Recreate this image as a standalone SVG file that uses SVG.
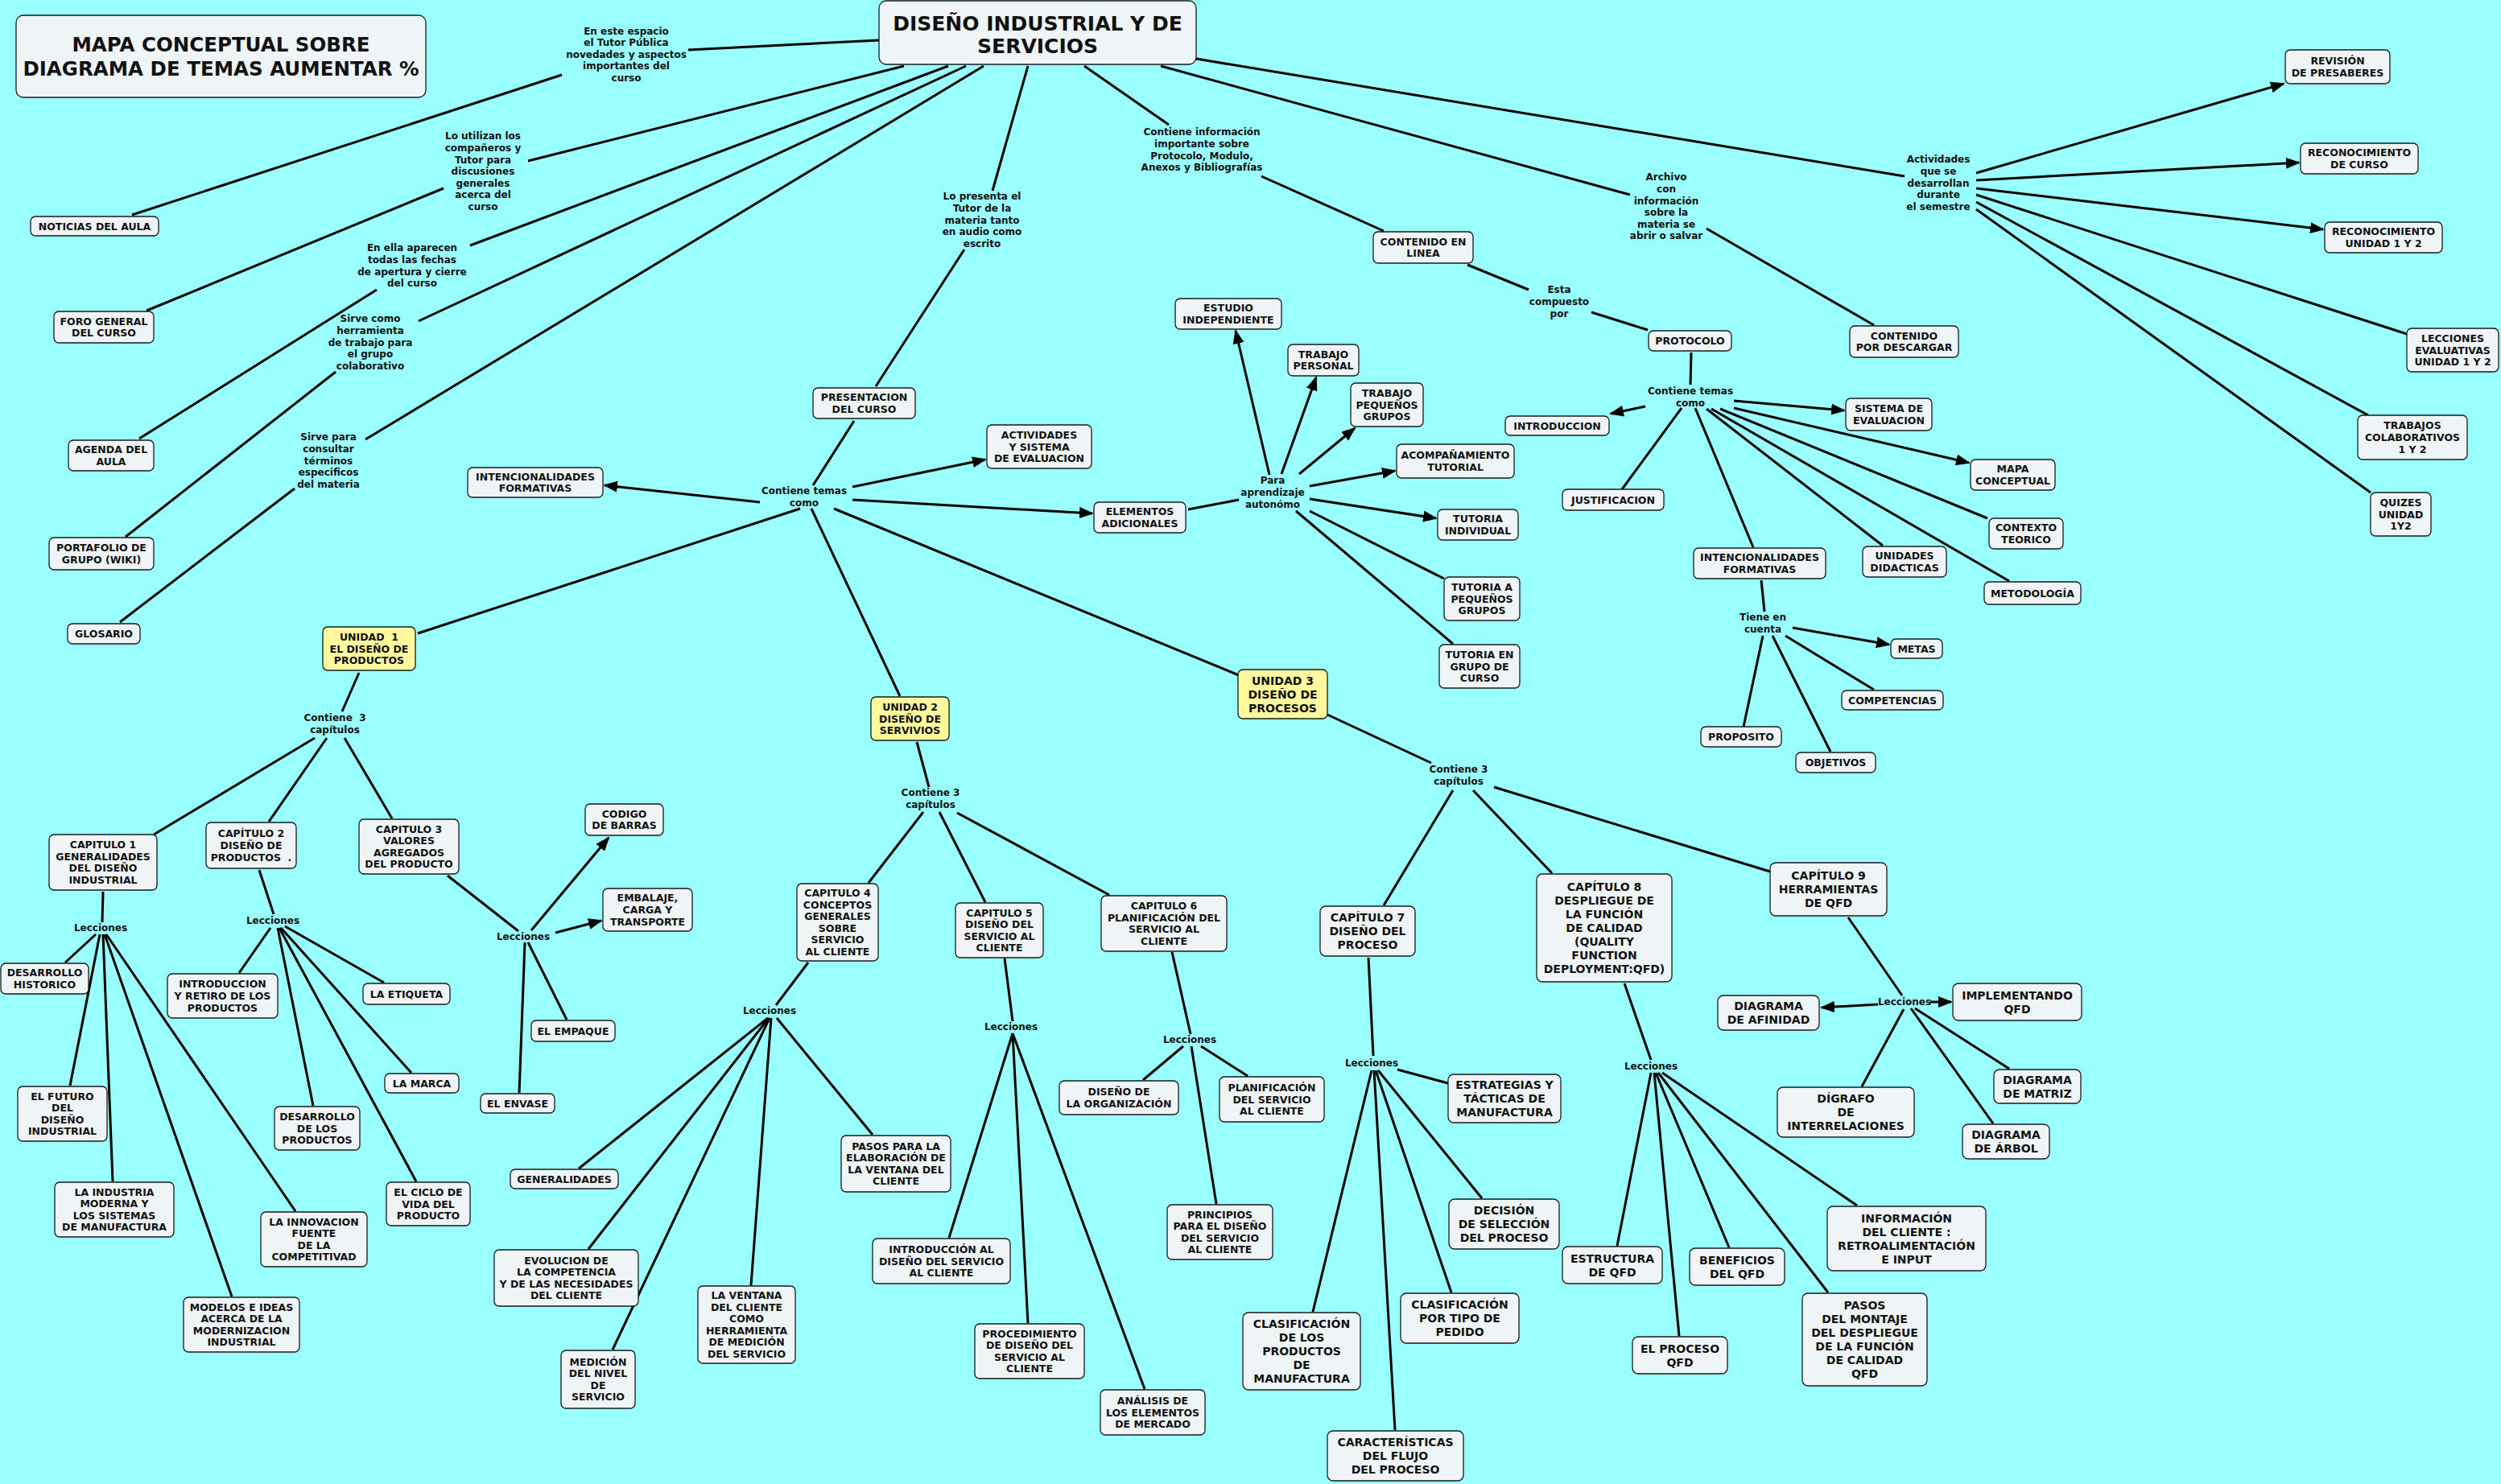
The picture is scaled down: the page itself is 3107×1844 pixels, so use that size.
<svg xmlns="http://www.w3.org/2000/svg" width="3107" height="1844" viewBox="0 0 3107 1844">
<style>
.box{fill:#EFF5F7;stroke:#1a1a1a;stroke-width:1.3}
.yel{fill:#FFF99D}
.t{font-family:"DejaVu Sans",Verdana,sans-serif;font-weight:bold;font-size:12.5px;text-anchor:middle;fill:#111}
.t14{font-size:14px}
.lk{font-family:"DejaVu Sans",Verdana,sans-serif;font-weight:bold;font-size:12px;text-anchor:middle;fill:#111}
.pre{white-space:pre}
#connectors line{stroke:#000;stroke-width:3;fill:none}
#connectors line.a{marker-end:url(#arr)}
</style>
<defs>
<marker id="arr" markerUnits="userSpaceOnUse" markerWidth="20" markerHeight="16" refX="16" refY="7" orient="auto">
<path d="M0,0 L18,7 L0,14 z" fill="#000"/>
</marker>
</defs>
<rect x="0" y="0" width="3107" height="1844" fill="#99FFFF"/>

<g id="connectors">
<line x1="1092" y1="50" x2="855" y2="62"/>
<line x1="698" y1="93" x2="164" y2="267"/>
<line x1="1123" y1="82" x2="656" y2="200"/>
<line x1="551" y1="234" x2="182" y2="386"/>
<line x1="1178" y1="82" x2="584" y2="305"/>
<line x1="468" y1="360" x2="173" y2="545"/>
<line x1="1200" y1="82" x2="520" y2="399"/>
<line x1="417" y1="462" x2="156" y2="667"/>
<line x1="1222" y1="82" x2="454" y2="546"/>
<line x1="366" y1="607" x2="149" y2="773"/>
<line x1="1277" y1="82" x2="1233" y2="237"/>
<line x1="1198" y1="310" x2="1088" y2="480"/>
<line x1="1061" y1="523" x2="1010" y2="603"/>
<line class="a" x1="944" y1="624" x2="751" y2="603"/>
<line class="a" x1="1059" y1="605" x2="1224" y2="571"/>
<line class="a" x1="1059" y1="621" x2="1357" y2="638"/>
<line x1="994" y1="632" x2="519" y2="787"/>
<line x1="1008" y1="632" x2="1118" y2="865"/>
<line x1="1036" y1="632" x2="1539" y2="839"/>
<line x1="1476" y1="633" x2="1539" y2="621"/>
<line class="a" x1="1577" y1="590" x2="1535" y2="411"/>
<line class="a" x1="1592" y1="589" x2="1635" y2="469"/>
<line class="a" x1="1614" y1="589" x2="1683" y2="532"/>
<line class="a" x1="1627" y1="604" x2="1733" y2="585"/>
<line class="a" x1="1627" y1="620" x2="1784" y2="644"/>
<line x1="1627" y1="635" x2="1794" y2="719"/>
<line x1="1610" y1="635" x2="1805" y2="800"/>
<line x1="1347" y1="82" x2="1452" y2="155"/>
<line x1="1567" y1="219" x2="1719" y2="287"/>
<line x1="1823" y1="329" x2="1899" y2="360"/>
<line x1="1977" y1="388" x2="2047" y2="410"/>
<line x1="2101" y1="438" x2="2100" y2="478"/>
<line class="a" x1="2044" y1="505" x2="2001" y2="514"/>
<line class="a" x1="2154" y1="498" x2="2291" y2="510"/>
<line x1="2089" y1="507" x2="2015" y2="608"/>
<line x1="2106" y1="507" x2="2178" y2="680"/>
<line x1="2120" y1="508" x2="2339" y2="678"/>
<line x1="2126" y1="508" x2="2496" y2="722"/>
<line x1="2137" y1="508" x2="2469" y2="644"/>
<line class="a" x1="2154" y1="507" x2="2446" y2="575"/>
<line x1="1442" y1="82" x2="2025" y2="242"/>
<line x1="2120" y1="284" x2="2328" y2="404"/>
<line x1="1486" y1="73" x2="2366" y2="219"/>
<line class="a" x1="2455" y1="215" x2="2837" y2="104"/>
<line class="a" x1="2455" y1="224" x2="2856" y2="202"/>
<line class="a" x1="2455" y1="234" x2="2886" y2="285"/>
<line x1="2455" y1="242" x2="2990" y2="415"/>
<line x1="2455" y1="251" x2="2942" y2="516"/>
<line x1="2455" y1="260" x2="2945" y2="612"/>
<line x1="2188" y1="721" x2="2192" y2="760"/>
<line x1="2190" y1="790" x2="2166" y2="903"/>
<line x1="2202" y1="790" x2="2274" y2="934"/>
<line x1="2218" y1="790" x2="2328" y2="857"/>
<line class="a" x1="2227" y1="780" x2="2347" y2="801"/>
<line x1="446" y1="836" x2="425" y2="884"/>
<line x1="391" y1="917" x2="191" y2="1037"/>
<line x1="406" y1="917" x2="334" y2="1021"/>
<line x1="428" y1="917" x2="487" y2="1017"/>
<line x1="128" y1="1108" x2="127" y2="1146"/>
<line x1="119" y1="1161" x2="81" y2="1196"/>
<line x1="124" y1="1161" x2="87" y2="1349"/>
<line x1="128" y1="1161" x2="140" y2="1468"/>
<line x1="130" y1="1161" x2="288" y2="1611"/>
<line x1="132" y1="1161" x2="367" y2="1505"/>
<line x1="322" y1="1081" x2="340" y2="1136"/>
<line x1="336" y1="1153" x2="297" y2="1209"/>
<line x1="345" y1="1153" x2="389" y2="1374"/>
<line x1="347" y1="1153" x2="517" y2="1468"/>
<line x1="349" y1="1153" x2="511" y2="1333"/>
<line x1="354" y1="1151" x2="477" y2="1221"/>
<line x1="556" y1="1088" x2="644" y2="1157"/>
<line class="a" x1="660" y1="1156" x2="756" y2="1041"/>
<line class="a" x1="690" y1="1159" x2="747" y2="1144"/>
<line x1="652" y1="1171" x2="645" y2="1358"/>
<line x1="656" y1="1171" x2="704" y2="1267"/>
<line x1="1139" y1="922" x2="1154" y2="978"/>
<line x1="1147" y1="1009" x2="1079" y2="1097"/>
<line x1="1167" y1="1009" x2="1224" y2="1121"/>
<line x1="1189" y1="1010" x2="1378" y2="1112"/>
<line x1="1004" y1="1196" x2="964" y2="1249"/>
<line x1="954" y1="1265" x2="719" y2="1452"/>
<line x1="955" y1="1265" x2="731" y2="1552"/>
<line x1="956" y1="1265" x2="761" y2="1677"/>
<line x1="958" y1="1265" x2="933" y2="1597"/>
<line x1="965" y1="1265" x2="1084" y2="1410"/>
<line x1="1248" y1="1191" x2="1258" y2="1269"/>
<line x1="1258" y1="1284" x2="1179" y2="1538"/>
<line x1="1258" y1="1284" x2="1277" y2="1644"/>
<line x1="1258" y1="1284" x2="1422" y2="1726"/>
<line x1="1456" y1="1183" x2="1479" y2="1285"/>
<line x1="1470" y1="1300" x2="1420" y2="1342"/>
<line x1="1480" y1="1300" x2="1511" y2="1496"/>
<line x1="1492" y1="1300" x2="1550" y2="1337"/>
<line x1="1649" y1="888" x2="1778" y2="948"/>
<line x1="1805" y1="982" x2="1719" y2="1125"/>
<line x1="1830" y1="982" x2="1928" y2="1085"/>
<line x1="1856" y1="978" x2="2199" y2="1083"/>
<line x1="1700" y1="1190" x2="1706" y2="1312"/>
<line x1="1736" y1="1329" x2="1799" y2="1346"/>
<line x1="1712" y1="1330" x2="1841" y2="1489"/>
<line x1="1709" y1="1330" x2="1803" y2="1606"/>
<line x1="1704" y1="1330" x2="1631" y2="1630"/>
<line x1="1707" y1="1330" x2="1733" y2="1777"/>
<line x1="2018" y1="1222" x2="2051" y2="1317"/>
<line x1="2051" y1="1333" x2="2009" y2="1548"/>
<line x1="2055" y1="1333" x2="2086" y2="1660"/>
<line x1="2057" y1="1333" x2="2148" y2="1550"/>
<line x1="2060" y1="1333" x2="2271" y2="1606"/>
<line x1="2065" y1="1333" x2="2307" y2="1498"/>
<line x1="2296" y1="1140" x2="2363" y2="1237"/>
<line class="a" x1="2333" y1="1248" x2="2263" y2="1252"/>
<line class="a" x1="2398" y1="1245" x2="2424" y2="1245"/>
<line x1="2365" y1="1254" x2="2313" y2="1350"/>
<line x1="2379" y1="1253" x2="2496" y2="1328"/>
<line x1="2374" y1="1253" x2="2476" y2="1396"/>
</g>

<g id="linking-phrases">
<text class="lk" x="778" y="42.5">En este espacio<tspan x="778" dy="14.6">el Tutor Pública</tspan><tspan x="778" dy="14.6">novedades y aspectos</tspan><tspan x="778" dy="14.6">importantes del</tspan><tspan x="778" dy="14.6">curso</tspan></text>
<text class="lk" x="600" y="173.3">Lo utilizan los<tspan x="600" dy="14.6">compañeros y</tspan><tspan x="600" dy="14.6">Tutor para</tspan><tspan x="600" dy="14.6">discusiones</tspan><tspan x="600" dy="14.6">generales</tspan><tspan x="600" dy="14.6">acerca del</tspan><tspan x="600" dy="14.6">curso</tspan></text>
<text class="lk" x="512" y="312.3">En ella aparecen<tspan x="512" dy="14.6">todas las fechas</tspan><tspan x="512" dy="14.6">de apertura y cierre</tspan><tspan x="512" dy="14.6">del curso</tspan></text>
<text class="lk" x="460" y="400.3">Sirve como<tspan x="460" dy="14.6">herramienta</tspan><tspan x="460" dy="14.6">de trabajo para</tspan><tspan x="460" dy="14.6">el grupo</tspan><tspan x="460" dy="14.6">colaborativo</tspan></text>
<text class="lk" x="408" y="547.3">Sirve para<tspan x="408" dy="14.6">consultar</tspan><tspan x="408" dy="14.6">términos</tspan><tspan x="408" dy="14.6">especificos</tspan><tspan x="408" dy="14.6">del materia</tspan></text>
<text class="lk" x="1220" y="248.3">Lo presenta el<tspan x="1220" dy="14.6">Tutor de la</tspan><tspan x="1220" dy="14.6">materia tanto</tspan><tspan x="1220" dy="14.6">en audio como</tspan><tspan x="1220" dy="14.6">escrito</tspan></text>
<text class="lk" x="1493" y="168.3">Contiene información<tspan x="1493" dy="14.6">importante sobre</tspan><tspan x="1493" dy="14.6">Protocolo, Modulo,</tspan><tspan x="1493" dy="14.6">Anexos y Bibliografías</tspan></text>
<text class="lk" x="2070" y="224.3">Archivo<tspan x="2070" dy="14.6">con</tspan><tspan x="2070" dy="14.6">información</tspan><tspan x="2070" dy="14.6">sobre la</tspan><tspan x="2070" dy="14.6">materia se</tspan><tspan x="2070" dy="14.6">abrir o salvar</tspan></text>
<text class="lk" x="2408" y="202.3">Actividades<tspan x="2408" dy="14.6">que se</tspan><tspan x="2408" dy="14.6">desarrollan</tspan><tspan x="2408" dy="14.6">durante</tspan><tspan x="2408" dy="14.6">el semestre</tspan></text>
<text class="lk" x="1937" y="364.3">Esta<tspan x="1937" dy="14.6">compuesto</tspan><tspan x="1937" dy="14.6">por</tspan></text>
<text class="lk" x="2100" y="490.3">Contiene temas<tspan x="2100" dy="14.6">como</tspan></text>
<text class="lk" x="999" y="614.3">Contiene temas<tspan x="999" dy="14.6">como</tspan></text>
<text class="lk" x="1581" y="601.3">Para<tspan x="1581" dy="14.6">aprendizaje</tspan><tspan x="1581" dy="14.6">autonómo</tspan></text>
<text class="lk" x="2190" y="771.3">Tiene en<tspan x="2190" dy="14.6">cuenta</tspan></text>
<text class="lk pre" x="416" y="896.3">Contiene  3<tspan x="416" dy="14.6">capítulos</tspan></text>
<text class="lk" x="1156" y="989.3">Contiene 3<tspan x="1156" dy="14.6">capítulos</tspan></text>
<text class="lk" x="1812" y="960.3">Contiene 3<tspan x="1812" dy="14.6">capítulos</tspan></text>
<text class="lk" x="125" y="1157.3">Lecciones</text>
<text class="lk" x="339" y="1148.3">Lecciones</text>
<text class="lk" x="650" y="1168.3">Lecciones</text>
<text class="lk" x="956" y="1260.3">Lecciones</text>
<text class="lk" x="1256" y="1280.3">Lecciones</text>
<text class="lk" x="1478" y="1296.3">Lecciones</text>
<text class="lk" x="1704" y="1325.3">Lecciones</text>
<text class="lk" x="2051" y="1329.3">Lecciones</text>
<text class="lk" x="2366" y="1249.3">Lecciones</text>
</g>

<g id="n-titulo-mapa"><rect class="box" x="20" y="19" width="509" height="102" rx="9"/><text class="t" style="font-size:24.5px" x="274.5" y="64">MAPA CONCEPTUAL SOBRE<tspan x="274.5" dy="30">DIAGRAMA DE TEMAS AUMENTAR %</tspan></text></g>
<g id="n-principal"><rect class="box" x="1092" y="1" width="394" height="79" rx="9"/><text class="t" style="font-size:25px" x="1289" y="38">DISEÑO INDUSTRIAL Y DE<tspan x="1289" dy="28">SERVICIOS</tspan></text></g>
<g id="n-noticias"><rect class="box" x="38" y="269" width="159" height="24" rx="6"/><text class="t" x="117.5" y="285.5">NOTICIAS DEL AULA</text></g>
<g id="n-foro"><rect class="box" x="67" y="387" width="124" height="39" rx="6"/><text class="t" x="129" y="403.7">FORO GENERAL<tspan x="129" dy="14.6">DEL CURSO</tspan></text></g>
<g id="n-agenda"><rect class="box" x="85" y="547" width="106" height="38" rx="6"/><text class="t" x="138" y="563.2">AGENDA DEL<tspan x="138" dy="14.6">AULA</tspan></text></g>
<g id="n-portafolio"><rect class="box" x="61" y="668" width="130" height="40" rx="6"/><text class="t" x="126" y="685.2">PORTAFOLIO DE<tspan x="126" dy="14.6">GRUPO (WIKI)</tspan></text></g>
<g id="n-glosario"><rect class="box" x="84" y="775" width="90" height="25" rx="6"/><text class="t" x="129" y="792">GLOSARIO</text></g>
<g id="n-intenc-izq"><rect class="box" x="581" y="581" width="168" height="37" rx="6"/><text class="t" x="665" y="596.7">INTENCIONALIDADES<tspan x="665" dy="14.6">FORMATIVAS</tspan></text></g>
<g id="n-presentacion"><rect class="box" x="1010" y="482" width="127" height="38" rx="6"/><text class="t" x="1073.5" y="498.2">PRESENTACION<tspan x="1073.5" dy="14.6">DEL CURSO</tspan></text></g>
<g id="n-actividades"><rect class="box" x="1226" y="528" width="130" height="54" rx="6"/><text class="t" x="1291" y="544.9">ACTIVIDADES<tspan x="1291" dy="14.6">Y SISTEMA</tspan><tspan x="1291" dy="14.6">DE EVALUACION</tspan></text></g>
<g id="n-elementos"><rect class="box" x="1359" y="624" width="114" height="38" rx="6"/><text class="t" x="1416" y="640.2">ELEMENTOS<tspan x="1416" dy="14.6">ADICIONALES</tspan></text></g>
<g id="n-estudio"><rect class="box" x="1460" y="371" width="132" height="38" rx="6"/><text class="t" x="1526" y="387.2">ESTUDIO<tspan x="1526" dy="14.6">INDEPENDIENTE</tspan></text></g>
<g id="n-trab-personal"><rect class="box" x="1600" y="428" width="88" height="39" rx="6"/><text class="t" x="1644" y="444.7">TRABAJO<tspan x="1644" dy="14.6">PERSONAL</tspan></text></g>
<g id="n-trab-peq"><rect class="box" x="1678" y="476" width="90" height="54" rx="6"/><text class="t" x="1723" y="492.9">TRABAJO<tspan x="1723" dy="14.6">PEQUEÑOS</tspan><tspan x="1723" dy="14.6">GRUPOS</tspan></text></g>
<g id="n-acomp"><rect class="box" x="1735" y="552" width="146" height="42" rx="6"/><text class="t" x="1808" y="570.2">ACOMPAÑAMIENTO<tspan x="1808" dy="14.6">TUTORIAL</tspan></text></g>
<g id="n-tut-ind"><rect class="box" x="1786" y="633" width="100" height="38" rx="6"/><text class="t" x="1836" y="649.2">TUTORIA<tspan x="1836" dy="14.6">INDIVIDUAL</tspan></text></g>
<g id="n-tut-peq"><rect class="box" x="1794" y="717" width="94" height="54" rx="6"/><text class="t" x="1841" y="733.9">TUTORIA A<tspan x="1841" dy="14.6">PEQUEÑOS</tspan><tspan x="1841" dy="14.6">GRUPOS</tspan></text></g>
<g id="n-tut-grupo"><rect class="box" x="1788" y="801" width="100" height="54" rx="6"/><text class="t" x="1838" y="817.9">TUTORIA EN<tspan x="1838" dy="14.6">GRUPO DE</tspan><tspan x="1838" dy="14.6">CURSO</tspan></text></g>
<g id="n-contenido-linea"><rect class="box" x="1706" y="288" width="124" height="39" rx="6"/><text class="t" x="1768" y="304.7">CONTENIDO EN<tspan x="1768" dy="14.6">LINEA</tspan></text></g>
<g id="n-protocolo"><rect class="box" x="2048" y="411" width="103" height="25" rx="6"/><text class="t" x="2099.5" y="428">PROTOCOLO</text></g>
<g id="n-introduccion"><rect class="box" x="1870" y="517" width="129" height="24" rx="6"/><text class="t" x="1934.5" y="533.5">INTRODUCCION</text></g>
<g id="n-sistema-eval"><rect class="box" x="2293" y="495" width="107" height="40" rx="6"/><text class="t" x="2346.5" y="512.2">SISTEMA DE<tspan x="2346.5" dy="14.6">EVALUACION</tspan></text></g>
<g id="n-justificacion"><rect class="box" x="1941" y="608" width="126" height="26" rx="6"/><text class="t" x="2004" y="625.5">JUSTIFICACION</text></g>
<g id="n-mapa-conceptual"><rect class="box" x="2448" y="571" width="105" height="38" rx="6"/><text class="t" x="2500.5" y="587.2">MAPA<tspan x="2500.5" dy="14.6">CONCEPTUAL</tspan></text></g>
<g id="n-contexto"><rect class="box" x="2471" y="644" width="92" height="38" rx="6"/><text class="t" x="2517" y="660.2">CONTEXTO<tspan x="2517" dy="14.6">TEORICO</tspan></text></g>
<g id="n-unidades-did"><rect class="box" x="2314" y="679" width="104" height="38" rx="6"/><text class="t" x="2366" y="695.2">UNIDADES<tspan x="2366" dy="14.6">DIDACTICAS</tspan></text></g>
<g id="n-metodologia"><rect class="box" x="2465" y="723" width="120" height="28" rx="6"/><text class="t" x="2525" y="741.5">METODOLOGÍA</text></g>
<g id="n-intenc-der"><rect class="box" x="2104" y="681" width="164" height="38" rx="6"/><text class="t" x="2186" y="697.2">INTENCIONALIDADES<tspan x="2186" dy="14.6">FORMATIVAS</tspan></text></g>
<g id="n-metas"><rect class="box" x="2349" y="794" width="64" height="24" rx="6"/><text class="t" x="2381" y="810.5">METAS</text></g>
<g id="n-competencias"><rect class="box" x="2288" y="858" width="126" height="24" rx="6"/><text class="t" x="2351" y="874.5">COMPETENCIAS</text></g>
<g id="n-proposito"><rect class="box" x="2113" y="903" width="100" height="25" rx="6"/><text class="t" x="2163" y="920">PROPOSITO</text></g>
<g id="n-objetivos"><rect class="box" x="2231" y="935" width="99" height="25" rx="6"/><text class="t" x="2280.5" y="952">OBJETIVOS</text></g>
<g id="n-contenido-desc"><rect class="box" x="2298" y="405" width="135" height="39" rx="6"/><text class="t" x="2365.5" y="421.7">CONTENIDO<tspan x="2365.5" dy="14.6">POR DESCARGAR</tspan></text></g>
<g id="n-revision"><rect class="box" x="2839" y="62" width="130" height="42" rx="6"/><text class="t" x="2904" y="80.2">REVISIÓN<tspan x="2904" dy="14.6">DE PRESABERES</tspan></text></g>
<g id="n-recon-curso"><rect class="box" x="2858" y="178" width="146" height="38" rx="6"/><text class="t" x="2931" y="194.2">RECONOCIMIENTO<tspan x="2931" dy="14.6">DE CURSO</tspan></text></g>
<g id="n-recon-unidad"><rect class="box" x="2888" y="276" width="146" height="38" rx="6"/><text class="t" x="2961" y="292.2">RECONOCIMIENTO<tspan x="2961" dy="14.6">UNIDAD 1 Y 2</tspan></text></g>
<g id="n-lecciones-eval"><rect class="box" x="2990" y="408" width="114" height="54" rx="6"/><text class="t" x="3047" y="424.9">LECCIONES<tspan x="3047" dy="14.6">EVALUATIVAS</tspan><tspan x="3047" dy="14.6">UNIDAD 1 Y 2</tspan></text></g>
<g id="n-trabajos-colab"><rect class="box" x="2929" y="516" width="136" height="55" rx="6"/><text class="t" x="2997" y="533.4">TRABAJOS<tspan x="2997" dy="14.6">COLABORATIVOS</tspan><tspan x="2997" dy="14.6">1 Y 2</tspan></text></g>
<g id="n-quizes"><rect class="box" x="2945" y="612" width="75" height="54" rx="6"/><text class="t" x="2982.5" y="628.9">QUIZES<tspan x="2982.5" dy="14.6">UNIDAD</tspan><tspan x="2982.5" dy="14.6">1Y2</tspan></text></g>
<g id="n-unidad1"><rect class="box yel" x="401" y="779" width="115" height="54" rx="6"/><text class="t pre" x="458.5" y="795.9">UNIDAD  1<tspan x="458.5" dy="14.6">EL DISEÑO DE</tspan><tspan x="458.5" dy="14.6">PRODUCTOS</tspan></text></g>
<g id="n-unidad2"><rect class="box yel" x="1082" y="866" width="97" height="54" rx="6"/><text class="t" x="1130.5" y="882.9">UNIDAD 2<tspan x="1130.5" dy="14.6">DISEÑO DE</tspan><tspan x="1130.5" dy="14.6">SERVIVIOS</tspan></text></g>
<g id="n-unidad3"><rect class="box yel" x="1538" y="832" width="111" height="61" rx="6"/><text class="t t14" x="1593.5" y="850.5">UNIDAD 3<tspan x="1593.5" dy="17">DISEÑO DE</tspan><tspan x="1593.5" dy="17">PROCESOS</tspan></text></g>
<g id="n-cap1"><rect class="box" x="61" y="1037" width="134" height="69" rx="6"/><text class="t" x="128" y="1054.1">CAPITULO 1<tspan x="128" dy="14.6">GENERALIDADES</tspan><tspan x="128" dy="14.6">DEL DISEÑO</tspan><tspan x="128" dy="14.6">INDUSTRIAL</tspan></text></g>
<g id="n-cap2"><rect class="box" x="256" y="1022" width="112" height="57" rx="6"/><text class="t pre" x="312" y="1040.4">CAPÍTULO 2<tspan x="312" dy="14.6">DISEÑO DE</tspan><tspan x="312" dy="14.6">PRODUCTOS  .</tspan></text></g>
<g id="n-cap3"><rect class="box" x="446" y="1018" width="124" height="68" rx="6"/><text class="t" x="508" y="1034.6">CAPITULO 3<tspan x="508" dy="14.6">VALORES</tspan><tspan x="508" dy="14.6">AGREGADOS</tspan><tspan x="508" dy="14.6">DEL PRODUCTO</tspan></text></g>
<g id="n-desarrollo-hist"><rect class="box" x="1" y="1197" width="109" height="38" rx="6"/><text class="t" x="55.5" y="1213.2">DESARROLLO<tspan x="55.5" dy="14.6">HISTORICO</tspan></text></g>
<g id="n-intro-retiro"><rect class="box" x="208" y="1210" width="137" height="55" rx="6"/><text class="t" x="276.5" y="1227.4">INTRODUCCION<tspan x="276.5" dy="14.6">Y RETIRO DE LOS</tspan><tspan x="276.5" dy="14.6">PRODUCTOS</tspan></text></g>
<g id="n-etiqueta"><rect class="box" x="451" y="1222" width="108" height="26" rx="6"/><text class="t" x="505" y="1239.5">LA ETIQUETA</text></g>
<g id="n-marca"><rect class="box" x="478" y="1334" width="92" height="24" rx="6"/><text class="t" x="524" y="1350.5">LA MARCA</text></g>
<g id="n-empaque"><rect class="box" x="660" y="1268" width="104" height="26" rx="6"/><text class="t" x="712" y="1285.5">EL EMPAQUE</text></g>
<g id="n-envase"><rect class="box" x="597" y="1359" width="92" height="24" rx="6"/><text class="t" x="643" y="1375.5">EL ENVASE</text></g>
<g id="n-codigo"><rect class="box" x="727" y="999" width="97" height="39" rx="6"/><text class="t" x="775.5" y="1015.7">CODIGO<tspan x="775.5" dy="14.6">DE BARRAS</tspan></text></g>
<g id="n-embalaje"><rect class="box" x="749" y="1104" width="111" height="53" rx="6"/><text class="t" x="804.5" y="1120.4">EMBALAJE,<tspan x="804.5" dy="14.6">CARGA Y</tspan><tspan x="804.5" dy="14.6">TRANSPORTE</tspan></text></g>
<g id="n-futuro"><rect class="box" x="22" y="1350" width="111" height="68" rx="6"/><text class="t" x="77.5" y="1366.6">EL FUTURO<tspan x="77.5" dy="14.6">DEL</tspan><tspan x="77.5" dy="14.6">DISEÑO</tspan><tspan x="77.5" dy="14.6">INDUSTRIAL</tspan></text></g>
<g id="n-desarrollo-prod"><rect class="box" x="341" y="1375" width="106" height="54" rx="6"/><text class="t" x="394" y="1391.9">DESARROLLO<tspan x="394" dy="14.6">DE LOS</tspan><tspan x="394" dy="14.6">PRODUCTOS</tspan></text></g>
<g id="n-industria"><rect class="box" x="68" y="1469" width="148" height="68" rx="6"/><text class="t" x="142" y="1485.6">LA INDUSTRIA<tspan x="142" dy="14.6">MODERNA Y</tspan><tspan x="142" dy="14.6">LOS SISTEMAS</tspan><tspan x="142" dy="14.6">DE MANUFACTURA</tspan></text></g>
<g id="n-ciclo"><rect class="box" x="480" y="1469" width="104" height="54" rx="6"/><text class="t" x="532" y="1485.9">EL CICLO DE<tspan x="532" dy="14.6">VIDA DEL</tspan><tspan x="532" dy="14.6">PRODUCTO</tspan></text></g>
<g id="n-innovacion"><rect class="box" x="324" y="1506" width="132" height="68" rx="6"/><text class="t" x="390" y="1522.6">LA INNOVACION<tspan x="390" dy="14.6">FUENTE</tspan><tspan x="390" dy="14.6">DE LA</tspan><tspan x="390" dy="14.6">COMPETITIVAD</tspan></text></g>
<g id="n-modelos"><rect class="box" x="228" y="1612" width="144" height="68" rx="6"/><text class="t" x="300" y="1628.6">MODELOS E IDEAS<tspan x="300" dy="14.6">ACERCA DE LA</tspan><tspan x="300" dy="14.6">MODERNIZACION</tspan><tspan x="300" dy="14.6">INDUSTRIAL</tspan></text></g>
<g id="n-cap4"><rect class="box" x="990" y="1098" width="101" height="96" rx="6"/><text class="t" x="1040.5" y="1114">CAPITULO 4<tspan x="1040.5" dy="14.6">CONCEPTOS</tspan><tspan x="1040.5" dy="14.6">GENERALES</tspan><tspan x="1040.5" dy="14.6">SOBRE</tspan><tspan x="1040.5" dy="14.6">SERVICIO</tspan><tspan x="1040.5" dy="14.6">AL CLIENTE</tspan></text></g>
<g id="n-cap5"><rect class="box" x="1187" y="1122" width="109" height="68" rx="6"/><text class="t" x="1241.5" y="1138.6">CAPITULO 5<tspan x="1241.5" dy="14.6">DISEÑO DEL</tspan><tspan x="1241.5" dy="14.6">SERVICIO AL</tspan><tspan x="1241.5" dy="14.6">CLIENTE</tspan></text></g>
<g id="n-cap6"><rect class="box" x="1368" y="1113" width="156" height="69" rx="6"/><text class="t" x="1446" y="1130.1">CAPITULO 6<tspan x="1446" dy="14.6">PLANIFICACIÓN DEL</tspan><tspan x="1446" dy="14.6">SERVICIO AL</tspan><tspan x="1446" dy="14.6">CLIENTE</tspan></text></g>
<g id="n-generalidades"><rect class="box" x="634" y="1453" width="134" height="24" rx="6"/><text class="t" x="701" y="1469.5">GENERALIDADES</text></g>
<g id="n-evolucion"><rect class="box" x="614" y="1553" width="179" height="70" rx="6"/><text class="t" x="703.5" y="1570.6">EVOLUCION DE<tspan x="703.5" dy="14.6">LA COMPETENCIA</tspan><tspan x="703.5" dy="14.6">Y DE LAS NECESIDADES</tspan><tspan x="703.5" dy="14.6">DEL CLIENTE</tspan></text></g>
<g id="n-medicion"><rect class="box" x="697" y="1678" width="92" height="72" rx="6"/><text class="t" x="743" y="1696.6">MEDICIÓN<tspan x="743" dy="14.6">DEL NIVEL</tspan><tspan x="743" dy="14.6">DE</tspan><tspan x="743" dy="14.6">SERVICIO</tspan></text></g>
<g id="n-ventana"><rect class="box" x="867" y="1598" width="121" height="96" rx="6"/><text class="t" x="927.5" y="1614">LA VENTANA<tspan x="927.5" dy="14.6">DEL CLIENTE</tspan><tspan x="927.5" dy="14.6">COMO</tspan><tspan x="927.5" dy="14.6">HERRAMIENTA</tspan><tspan x="927.5" dy="14.6">DE MEDICIÓN</tspan><tspan x="927.5" dy="14.6">DEL SERVICIO</tspan></text></g>
<g id="n-pasos-ventana"><rect class="box" x="1045" y="1411" width="136" height="70" rx="6"/><text class="t" x="1113" y="1428.6">PASOS PARA LA<tspan x="1113" dy="14.6">ELABORACIÓN DE</tspan><tspan x="1113" dy="14.6">LA VENTANA DEL</tspan><tspan x="1113" dy="14.6">CLIENTE</tspan></text></g>
<g id="n-intro-servicio"><rect class="box" x="1084" y="1539" width="171" height="56" rx="6"/><text class="t" x="1169.5" y="1556.9">INTRODUCCIÓN AL<tspan x="1169.5" dy="14.6">DISEÑO DEL SERVICIO</tspan><tspan x="1169.5" dy="14.6">AL CLIENTE</tspan></text></g>
<g id="n-procedimiento"><rect class="box" x="1211" y="1645" width="136" height="68" rx="6"/><text class="t" x="1279" y="1661.6">PROCEDIMIENTO<tspan x="1279" dy="14.6">DE DISEÑO DEL</tspan><tspan x="1279" dy="14.6">SERVICIO AL</tspan><tspan x="1279" dy="14.6">CLIENTE</tspan></text></g>
<g id="n-analisis"><rect class="box" x="1367" y="1727" width="130" height="56" rx="6"/><text class="t" x="1432" y="1744.9">ANÁLISIS DE<tspan x="1432" dy="14.6">LOS ELEMENTOS</tspan><tspan x="1432" dy="14.6">DE MERCADO</tspan></text></g>
<g id="n-diseno-org"><rect class="box" x="1316" y="1343" width="148" height="42" rx="6"/><text class="t" x="1390" y="1361.2">DISEÑO DE<tspan x="1390" dy="14.6">LA ORGANIZACIÓN</tspan></text></g>
<g id="n-planificacion"><rect class="box" x="1515" y="1338" width="130" height="56" rx="6"/><text class="t" x="1580" y="1355.9">PLANIFICACIÓN<tspan x="1580" dy="14.6">DEL SERVICIO</tspan><tspan x="1580" dy="14.6">AL CLIENTE</tspan></text></g>
<g id="n-principios"><rect class="box" x="1450" y="1497" width="131" height="68" rx="6"/><text class="t" x="1515.5" y="1513.6">PRINCIPIOS<tspan x="1515.5" dy="14.6">PARA EL DISEÑO</tspan><tspan x="1515.5" dy="14.6">DEL SERVICIO</tspan><tspan x="1515.5" dy="14.6">AL CLIENTE</tspan></text></g>
<g id="n-cap7"><rect class="box" x="1640" y="1126" width="118" height="62" rx="7"/><text class="t t14" x="1699" y="1145">CAPÍTULO 7<tspan x="1699" dy="17">DISEÑO DEL</tspan><tspan x="1699" dy="17">PROCESO</tspan></text></g>
<g id="n-cap8"><rect class="box" x="1909" y="1086" width="168" height="134" rx="7"/><text class="t t14" x="1993" y="1107">CAPÍTULO 8<tspan x="1993" dy="17">DESPLIEGUE DE</tspan><tspan x="1993" dy="17">LA FUNCIÓN</tspan><tspan x="1993" dy="17">DE CALIDAD</tspan><tspan x="1993" dy="17">(QUALITY</tspan><tspan x="1993" dy="17">FUNCTION</tspan><tspan x="1993" dy="17">DEPLOYMENT:QFD)</tspan></text></g>
<g id="n-cap9"><rect class="box" x="2199" y="1072" width="145" height="66" rx="7"/><text class="t t14" x="2271.5" y="1093">CAPÍTULO 9<tspan x="2271.5" dy="17">HERRAMIENTAS</tspan><tspan x="2271.5" dy="17">DE QFD</tspan></text></g>
<g id="n-estrategias"><rect class="box" x="1799" y="1335" width="140" height="60" rx="7"/><text class="t t14" x="1869" y="1353">ESTRATEGIAS Y<tspan x="1869" dy="17">TÁCTICAS DE</tspan><tspan x="1869" dy="17">MANUFACTURA</tspan></text></g>
<g id="n-decision"><rect class="box" x="1800" y="1490" width="137" height="62" rx="7"/><text class="t t14" x="1868.5" y="1509">DECISIÓN<tspan x="1868.5" dy="17">DE SELECCIÓN</tspan><tspan x="1868.5" dy="17">DEL PROCESO</tspan></text></g>
<g id="n-clas-pedido"><rect class="box" x="1740" y="1607" width="147" height="62" rx="7"/><text class="t t14" x="1813.5" y="1626">CLASIFICACIÓN<tspan x="1813.5" dy="17">POR TIPO DE</tspan><tspan x="1813.5" dy="17">PEDIDO</tspan></text></g>
<g id="n-clas-prod"><rect class="box" x="1544" y="1631" width="146" height="96" rx="7"/><text class="t t14" x="1617" y="1650">CLASIFICACIÓN<tspan x="1617" dy="17">DE LOS</tspan><tspan x="1617" dy="17">PRODUCTOS</tspan><tspan x="1617" dy="17">DE</tspan><tspan x="1617" dy="17">MANUFACTURA</tspan></text></g>
<g id="n-caracteristicas"><rect class="box" x="1649" y="1778" width="169" height="62" rx="7"/><text class="t t14" x="1733.5" y="1797">CARACTERÍSTICAS<tspan x="1733.5" dy="17">DEL FLUJO</tspan><tspan x="1733.5" dy="17">DEL PROCESO</tspan></text></g>
<g id="n-estructura"><rect class="box" x="1941" y="1549" width="124" height="46" rx="7"/><text class="t t14" x="2003" y="1568.5">ESTRUCTURA<tspan x="2003" dy="17">DE QFD</tspan></text></g>
<g id="n-proceso-qfd"><rect class="box" x="2028" y="1661" width="118" height="46" rx="7"/><text class="t t14" x="2087" y="1680.5">EL PROCESO<tspan x="2087" dy="17">QFD</tspan></text></g>
<g id="n-beneficios"><rect class="box" x="2099" y="1551" width="118" height="46" rx="7"/><text class="t t14" x="2158" y="1570.5">BENEFICIOS<tspan x="2158" dy="17">DEL QFD</tspan></text></g>
<g id="n-pasos-montaje"><rect class="box" x="2239" y="1607" width="155" height="115" rx="7"/><text class="t t14" x="2316.5" y="1627">PASOS<tspan x="2316.5" dy="17">DEL MONTAJE</tspan><tspan x="2316.5" dy="17">DEL DESPLIEGUE</tspan><tspan x="2316.5" dy="17">DE LA FUNCIÓN</tspan><tspan x="2316.5" dy="17">DE CALIDAD</tspan><tspan x="2316.5" dy="17">QFD</tspan></text></g>
<g id="n-informacion"><rect class="box" x="2270" y="1499" width="197" height="80" rx="7"/><text class="t t14" x="2368.5" y="1518.5">INFORMACIÓN<tspan x="2368.5" dy="17">DEL CLIENTE :</tspan><tspan x="2368.5" dy="17">RETROALIMENTACIÓN</tspan><tspan x="2368.5" dy="17">E INPUT</tspan></text></g>
<g id="n-afinidad"><rect class="box" x="2134" y="1237" width="126" height="43" rx="7"/><text class="t t14" x="2197" y="1255">DIAGRAMA<tspan x="2197" dy="17">DE AFINIDAD</tspan></text></g>
<g id="n-digrafo"><rect class="box" x="2208" y="1351" width="170" height="62" rx="7"/><text class="t t14" x="2293" y="1370">DÍGRAFO<tspan x="2293" dy="17">DE</tspan><tspan x="2293" dy="17">INTERRELACIONES</tspan></text></g>
<g id="n-implementando"><rect class="box" x="2426" y="1222" width="160" height="46" rx="7"/><text class="t t14" x="2506" y="1241.5">IMPLEMENTANDO<tspan x="2506" dy="17">QFD</tspan></text></g>
<g id="n-matriz"><rect class="box" x="2477" y="1329" width="108" height="42" rx="7"/><text class="t t14" x="2531" y="1346.5">DIAGRAMA<tspan x="2531" dy="17">DE MATRIZ</tspan></text></g>
<g id="n-arbol"><rect class="box" x="2438" y="1397" width="108" height="43" rx="7"/><text class="t t14" x="2492" y="1415">DIAGRAMA<tspan x="2492" dy="17">DE ÁRBOL</tspan></text></g>
</svg>
